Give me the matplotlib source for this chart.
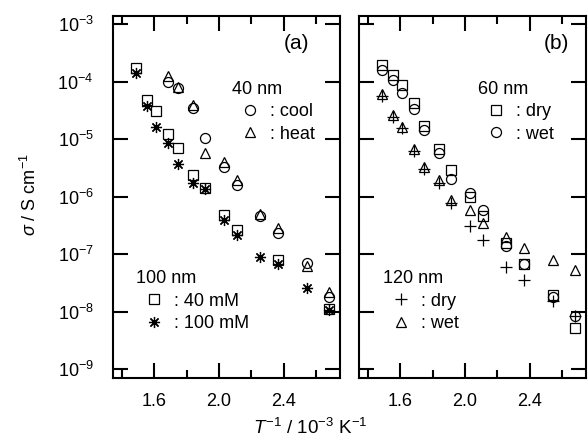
import matplotlib
matplotlib.use("Agg")
import matplotlib.pyplot as plt
from matplotlib.ticker import FixedLocator, FormatStrFormatter, NullLocator

plt.rcParams['font.family'] = ['Liberation Sans', 'DejaVu Sans']
plt.rcParams['mathtext.fontset'] = 'custom'
plt.rcParams['mathtext.rm'] = 'Liberation Sans'
plt.rcParams['mathtext.it'] = 'Liberation Sans:italic'

# inverse temperature, 10^-3 K^-1 (same set of temperatures for every run)
inv_T = [1.486, 1.554, 1.609, 1.687, 1.748, 1.840, 1.915,
         2.030, 2.113, 2.257, 2.365, 2.545, 2.682]

# (a) 100 nm, 40 mM  (no points at 2.257 and 2.545)
x_100nm_40mM = [1.486, 1.554, 1.609, 1.687, 1.748, 1.840, 1.915,
                2.030, 2.113, 2.365, 2.682]
s_100nm_40mM = [1.71e-4, 4.8e-5, 3.13e-5, 1.22e-5, 6.95e-6, 2.38e-6, 1.40e-6,
                4.8e-7, 2.64e-7, 7.9e-8, 1.10e-8]
# (a) 100 nm, 100 mM
s_100nm_100mM = [1.40e-4, 3.78e-5, 1.61e-5, 8.7e-6, 3.71e-6, 1.71e-6, 1.35e-6,
                 3.94e-7, 2.16e-7, 8.8e-8, 6.8e-8, 2.55e-8, 1.07e-8]
# (a) 40 nm cool / heat (from 1.687 on)
x_40nm = inv_T[3:]
s_40nm_cool = [1.0e-4, 7.7e-5, 3.44e-5, 1.04e-5, 3.33e-6, 1.60e-6,
               4.6e-7, 2.31e-7, 7.1e-8, 1.82e-8]
s_40nm_heat = [1.26e-4, 8.2e-5, 3.94e-5, 5.8e-6, 4.06e-6, 1.95e-6,
               5.1e-7, 2.82e-7, 6.35e-8, 2.23e-8]

# (b) 60 nm dry / wet
s_60nm_dry = [1.95e-4, 1.31e-4, 8.8e-5, 4.2e-5, 1.70e-5, 6.7e-6, 2.91e-6,
              1.0e-6, 4.57e-7, 1.57e-7, 6.9e-8, 1.95e-8, 5.2e-9]
s_60nm_wet = [1.60e-4, 1.07e-4, 6.3e-5, 3.31e-5, 1.45e-5, 5.7e-6, 2.01e-6,
              1.15e-6, 5.9e-7, 1.39e-7, 6.9e-8, 1.80e-8, 8.4e-9]
# (b) 120 nm dry / wet
s_120nm_dry = [5.6e-5, 2.40e-5, 1.55e-5, 6.2e-6, 3.0e-6, 1.71e-6, 7.7e-7,
               3.09e-7, 1.77e-7, 6.1e-8, 3.56e-8, 1.53e-8, 8.4e-9]
s_120nm_wet = [6.1e-5, 2.64e-5, 1.65e-5, 6.7e-6, 3.33e-6, 1.95e-6, 8.8e-7,
               6.0e-7, 3.49e-7, 2.0e-7, 1.27e-7, 7.9e-8, 5.3e-8]

fig = plt.figure(figsize=(5.88, 4.46), dpi=100)
ax_a = fig.add_axes([113/588, 68/446, 227/588, 362/446])
ax_b = fig.add_axes([359/588, 68/446, 227/588, 362/446])

mk = dict(ls='none', color='black', mfc='none', ms=7.2, mew=0.9)
star = (8, 2, 0)

sq_a, = ax_a.plot(x_100nm_40mM, s_100nm_40mM, marker='s', **mk)
st_a, = ax_a.plot(inv_T, s_100nm_100mM, marker=star, **dict(mk, ms=8))
ci_a, = ax_a.plot(x_40nm, s_40nm_cool, marker='o', **mk)
tr_a, = ax_a.plot(x_40nm, s_40nm_heat, marker='^', **mk)

sq_b, = ax_b.plot(inv_T, s_60nm_dry, marker='s', **mk)
ci_b, = ax_b.plot(inv_T, s_60nm_wet, marker='o', **mk)
pl_b, = ax_b.plot(inv_T, s_120nm_dry, marker='+', **dict(mk, ms=9))
tr_b, = ax_b.plot(inv_T, s_120nm_wet, marker='^', **mk)

for ax in (ax_a, ax_b):
    ax.set_yscale('log')
    ax.set_xlim(1.343, 2.75)
    ax.set_ylim(10**-9.151, 10**-2.857)
    ax.xaxis.set_major_locator(FixedLocator([1.6, 2.0, 2.4]))
    ax.xaxis.set_minor_locator(FixedLocator([1.4, 1.8, 2.2, 2.6]))
    ax.xaxis.set_major_formatter(FormatStrFormatter('%.1f'))
    ax.yaxis.set_major_locator(FixedLocator([10.0**k for k in range(-9, -2)]))
    ax.yaxis.set_minor_locator(NullLocator())
    ax.tick_params(which='both', direction='in', top=True, right=True,
                   width=1.5, labelsize=13)
    ax.tick_params(which='major', length=11)
    ax.tick_params(which='minor', length=6)
    ax.tick_params(axis='x', pad=11)
    ax.tick_params(axis='y', pad=14)
    for sp in ax.spines.values():
        sp.set_linewidth(1.5)

ax_b.tick_params(axis='y', labelleft=False)

leg_kw = dict(frameon=False, loc='upper left', fontsize=13, title_fontsize=13,
              borderpad=0, borderaxespad=0, handletextpad=0.1,
              handlelength=2.0, labelspacing=0.3, numpoints=1,
              alignment='left')

l1 = ax_a.legend([ci_a, tr_a], [': cool', ': heat'], title='40 nm',
                 bbox_to_anchor=(0.524, 0.821), **leg_kw)
ax_a.add_artist(l1)
ax_a.legend([sq_a, st_a], [': 40 mM', ': 100 mM'], title='100 nm',
            bbox_to_anchor=(0.101, 0.298), **leg_kw)

l2 = ax_b.legend([sq_b, ci_b], [': dry', ': wet'], title='60 nm',
                 bbox_to_anchor=(0.524, 0.821), **leg_kw)
ax_b.add_artist(l2)
ax_b.legend([pl_b, tr_b], [': dry', ': wet'], title='120 nm',
            bbox_to_anchor=(0.106, 0.298), **leg_kw)

ax_a.text(0.81, 0.925, '(a)', transform=ax_a.transAxes, fontsize=15,
          ha='center', va='center')
ax_b.text(0.868, 0.925, '(b)', transform=ax_b.transAxes, fontsize=15,
          ha='center', va='center')

fig.text(310/588, 1 - 428/446, r'$T^{-1}$ / 10$^{-3}$ K$^{-1}$', fontsize=13.5,
         ha='center', va='center')
fig.text(30/588, 1 - 195/446, r'$\sigma$ / S cm$^{-1}$', fontsize=13,
         ha='center', va='center', rotation=90)

fig.savefig('out.png', dpi=100)
